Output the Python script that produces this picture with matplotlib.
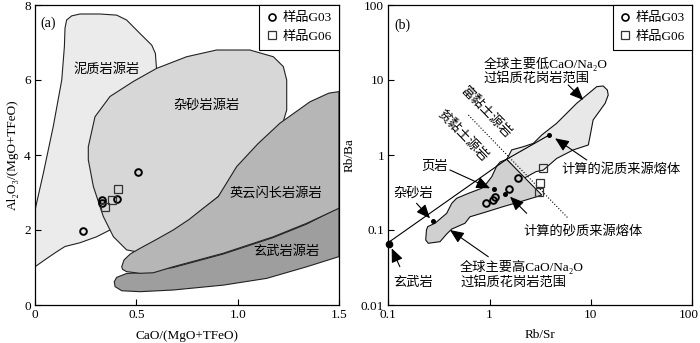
import matplotlib
matplotlib.use("Agg")
import matplotlib.pyplot as plt
from matplotlib.patches import Polygon
from matplotlib.lines import Line2D
from matplotlib.transforms import ScaledTranslation

plt.rcParams['font.family'] = ['Liberation Serif', 'Noto Sans CJK SC', 'DejaVu Serif']
FS = 9.5

# ---------------- Panel (a) data ----------------
a_g03_x = [0.237, 0.329, 0.329, 0.403, 0.51]
a_g03_y = [1.97, 2.79, 2.73, 2.83, 3.54]
a_g06_x = [0.344, 0.382, 0.411]
a_g06_y = [2.62, 2.80, 3.09]

pelite_x = [0, 0.041, 0.09, 0.132, 0.145, 0.148, 0.156, 0.181, 0.222, 0.321, 0.403, 0.452, 0.518, 0.576,
            0.594, 0.6, 0.551, 0.452, 0.37, 0.304, 0.222, 0.148, 0.107, 0.058, 0]
pelite_y = [2.53, 3.51, 4.76, 6.0, 6.89, 7.38, 7.6, 7.71, 7.76, 7.76, 7.73, 7.6, 7.24, 6.93,
            6.71, 6.27, 4.58, 2.8, 2.0, 1.82, 1.66, 1.56, 1.42, 1.24, 1.02]

greywacke_x = [0.263, 0.296, 0.37, 0.485, 0.6, 0.748, 0.896, 1.06, 1.176, 1.225, 1.242, 1.242, 1.217,
               1.06, 0.904, 0.765, 0.6, 0.518, 0.452, 0.387, 0.337, 0.288, 0.263]
greywacke_y = [4.22, 5.02, 5.56, 5.96, 6.31, 6.62, 6.8, 6.8, 6.62, 6.36, 6.0, 5.2, 4.75,
               3.82, 2.89, 2.27, 1.6, 1.4, 1.47, 1.82, 2.36, 3.16, 3.87]

basalt_x = [0.403, 0.452, 0.518, 0.682, 0.929, 1.176, 1.341, 1.5, 1.5, 1.341, 1.143, 0.929, 0.682,
            0.518, 0.428, 0.395, 0.391]
basalt_y = [0.737, 0.84, 0.86, 1.0, 1.36, 1.8, 2.16, 2.6, 1.29, 1.02, 0.71, 0.53, 0.40,
            0.355, 0.38, 0.49, 0.62]

tonalite_x = [0.428, 0.439, 0.47, 0.518, 0.6, 0.682, 0.76, 0.83, 0.904, 0.995, 1.1, 1.209, 1.357, 1.45,
              1.5, 1.5, 1.341, 1.176, 0.929, 0.682, 0.584, 0.518, 0.452, 0.432]
tonalite_y = [1.02, 1.2, 1.36, 1.51, 1.75, 2.0, 2.28, 2.58, 2.89, 3.69, 4.3, 4.85, 5.42, 5.65,
              5.69, 2.58, 2.18, 1.82, 1.38, 1.02, 0.86, 0.845, 0.89, 0.95]

a_xticks = [0, 0.5, 1.0, 1.5]
a_xticklabels = ['0', '0.5', '1.0', '1.5']
a_yticks = [0, 2, 4, 6, 8]
a_yticklabels = ['0', '2', '4', '6', '8']

# ---------------- Panel (b) data ----------------
b_g03_x = [0.92, 1.07, 1.13, 1.55, 1.92]
b_g03_y = [0.227, 0.255, 0.272, 0.352, 0.489]
b_g06_x = [3.39, 3.14, 3.09]
b_g06_y = [0.665, 0.428, 0.325]

dots_x = [0.102, 0.274, 1.10, 1.42, 3.88]
dots_y = [0.066, 0.132, 0.352, 0.299, 1.85]

mix_x = [0.1, 1.47, 3.88]
mix_y = [0.068, 0.877, 1.85]

lowca_x = [1.47, 1.52, 1.65, 2.15, 2.70, 3.27, 4.59, 7.23, 11.4, 13.2, 14.5, 14.8, 13.8, 10.5, 9.77,
           9.41, 6.70, 4.59, 3.39, 2.87, 2.18]
lowca_y = [0.877, 0.94, 1.17, 1.29, 1.43, 1.85, 2.65, 4.89, 8.15, 8.32, 7.36, 6.31, 4.89, 2.93, 1.75,
           1.36, 1.17, 0.90, 0.63, 0.60, 0.49]

highca_x = [1.47, 3.27, 2.92, 2.0, 1.36, 0.935, 0.64, 0.571, 0.423, 0.377, 0.324, 0.248, 0.234, 0.238,
            0.245, 0.289, 0.377, 0.423, 0.473, 0.617, 0.836, 0.935, 1.05, 1.175, 1.27]
highca_y = [0.877, 0.293, 0.278, 0.238, 0.205, 0.175, 0.150, 0.123, 0.103, 0.0885, 0.0699, 0.0665,
            0.0736, 0.1, 0.111, 0.123, 0.167, 0.227, 0.265, 0.308, 0.36, 0.42, 0.514, 0.713, 0.807]

clay_x = [0.617, 5.97]
clay_y = [3.41, 0.143]

b_xticks = [0.1, 1, 10, 100]
b_xticklabels = ['0.1', '1', '10', '100']
b_yticks = [0.01, 0.1, 1, 10, 100]
b_yticklabels = ['0.01', '0.1', '1', '10', '100']

legend_labels = ['样品G03', '样品G06']

fig = plt.figure(figsize=(7.0, 3.43), dpi=100)
axa = fig.add_axes([35/700, 38/343, 304/700, 300/343])
axb = fig.add_axes([388.3/700, 38/343, 304/700, 300/343])

def style(ax):
    ax.tick_params(direction='in', length=4, width=0.8, labelsize=FS, pad=3, top=False, right=False)
    ax.tick_params(which='minor', length=0)
    for s in ax.spines.values():
        s.set_linewidth(0.9)

# ---------- panel a ----------
for xs, ys, col in [(pelite_x, pelite_y, '#ebebeb'), (greywacke_x, greywacke_y, '#d7d7d7'),
                    (basalt_x, basalt_y, '#9e9e9e'), (tonalite_x, tonalite_y, '#b6b6b6')]:
    axa.add_patch(Polygon(list(zip(xs, ys)), closed=True, facecolor=col, edgecolor='#222222', lw=0.8, zorder=1))

axa.plot(a_g03_x, a_g03_y, 'o', mfc='none', mec='k', mew=1.4, ms=4.8, zorder=5)
axa.plot(a_g06_x, a_g06_y, 's', mfc='none', mec='#333333', mew=0.9, ms=5.5, zorder=5)

axa.set_xlim(0, 1.5)
axa.set_ylim(0, 8)
axa.set_xticks(a_xticks)
axa.set_xticklabels(a_xticklabels)
axa.set_yticks(a_yticks)
axa.set_yticklabels(a_yticklabels)
style(axa)
axa.set_xlabel('CaO/(MgO+TFeO)', fontsize=FS, labelpad=6)
axa.set_ylabel('Al₂O₃/(MgO+TFeO)', fontsize=FS, labelpad=4)

axa.text(0.063, 7.51, '(a)', fontsize=FS + 0.5, ha='center', va='center')
axa.text(0.355, 6.27, '泥质岩源岩', fontsize=FS, ha='center', va='center')
axa.text(0.847, 5.33, '杂砂岩源岩', fontsize=FS, ha='center', va='center')
axa.text(1.19, 2.98, '英云闪长岩源岩', fontsize=FS, ha='center', va='center')
axa.text(1.24, 1.42, '玄武岩源岩', fontsize=FS, ha='center', va='center')

handles = [Line2D([], [], ls='none', marker='o', mfc='none', mec='k', mew=1.2, ms=5),
           Line2D([], [], ls='none', marker='s', mfc='none', mec='#333333', mew=0.9, ms=5.5)]

def add_legend(ax):
    leg = ax.legend(handles, legend_labels, loc='upper right', fontsize=FS, frameon=True, fancybox=False,
                    borderaxespad=0, handlelength=0.8, handletextpad=0.4, borderpad=0.55,
                    labelspacing=0.45, framealpha=1)
    leg.get_frame().set_edgecolor('k')
    leg.get_frame().set_linewidth(0.8)

add_legend(axa)

# ---------- panel b ----------
axb.set_xscale('log')
axb.set_yscale('log')
axb.add_patch(Polygon(list(zip(lowca_x, lowca_y)), closed=True, facecolor='#e8e8e8', edgecolor='#111111', lw=0.8, zorder=1))
axb.add_patch(Polygon(list(zip(highca_x, highca_y)), closed=True, facecolor='#d0d0d0', edgecolor='#111111', lw=0.8, zorder=2))
axb.plot(mix_x, mix_y, '-', color='k', lw=0.8, zorder=3)
axb.plot(clay_x, clay_y, ':', color='k', lw=0.8, zorder=3)
axb.plot(dots_x[1:], dots_y[1:], 'o', color='k', ms=2.6, zorder=6)
axb.plot(dots_x[:1], dots_y[:1], 'o', color='k', ms=4.5, zorder=6, clip_on=False)
axb.plot(b_g03_x, b_g03_y, 'o', mfc='none', mec='k', mew=1.4, ms=4.8, zorder=5)
axb.plot(b_g06_x, b_g06_y, 's', mfc='none', mec='#333333', mew=0.9, ms=5.5, zorder=5)

axb.set_xlim(0.1, 100)
axb.set_ylim(0.01, 100)
axb.set_xticks(b_xticks)
axb.set_xticklabels(b_xticklabels)
axb.set_yticks(b_yticks)
axb.set_yticklabels(b_yticklabels)
axb.minorticks_off()
style(axb)
# keep the last x tick label inside the figure
last = axb.get_xticklabels()[-1]
last.set_horizontalalignment('right')
last.set_transform(last.get_transform() + ScaledTranslation(0.065, 0, fig.dpi_scale_trans))
axb.set_xlabel('Rb/Sr', fontsize=FS, labelpad=6)
axb.set_ylabel('Rb/Ba', fontsize=FS, labelpad=4)
add_legend(axb)

axb.text(0.139, 54, '(b)', fontsize=FS + 0.5, ha='center', va='center')

ap = dict(arrowstyle='-|>,head_length=0.7,head_width=0.3', color='k', lw=0.8,
          shrinkA=0, shrinkB=0, mutation_scale=12)

def arrow(ax, x0, y0, x1, y1):
    ax.annotate('', xy=(x1, y1), xytext=(x0, y0), arrowprops=ap, zorder=7)

axb.text(0.866, 13.3, '全球主要低CaO/Na₂O\n过铝质花岗岩范围', fontsize=FS, ha='left', va='center',
         linespacing=1.15, multialignment='left')
arrow(axb, 5.97, 8.58, 8.4, 5.41)
axb.text(0.93, 3.6, '富黏土源岩', fontsize=FS, rotation=-46, ha='center', va='center', rotation_mode='anchor')
axb.text(0.55, 1.8, '贫黏土源岩', fontsize=FS, rotation=-46, ha='center', va='center', rotation_mode='anchor')
axb.text(0.289, 0.699, '页岩', fontsize=FS, ha='center', va='center')
arrow(axb, 0.406, 0.631, 1.01, 0.36)
axb.text(0.177, 0.308, '杂砂岩', fontsize=FS, ha='center', va='center')
arrow(axb, 0.19, 0.227, 0.258, 0.143)
axb.text(0.177, 0.0195, '玄武岩', fontsize=FS, ha='center', va='center')
arrow(axb, 0.130, 0.0324, 0.108, 0.057)
axb.text(5.14, 0.631, '计算的泥质来源熔体', fontsize=FS, ha='left', va='center')
arrow(axb, 9.08, 0.858, 4.42, 1.67)
axb.text(2.15, 0.0949, '计算的砂质来源熔体', fontsize=FS, ha='left', va='center')
arrow(axb, 2.32, 0.167, 1.59, 0.278)
axb.text(0.51, 0.0257, '全球主要高CaO/Na₂O\n过铝质花岗岩范围', fontsize=FS, ha='left', va='center',
         linespacing=1.15, multialignment='left')
arrow(axb, 0.97, 0.044, 0.406, 0.1)

fig.savefig('out.png', dpi=100)
